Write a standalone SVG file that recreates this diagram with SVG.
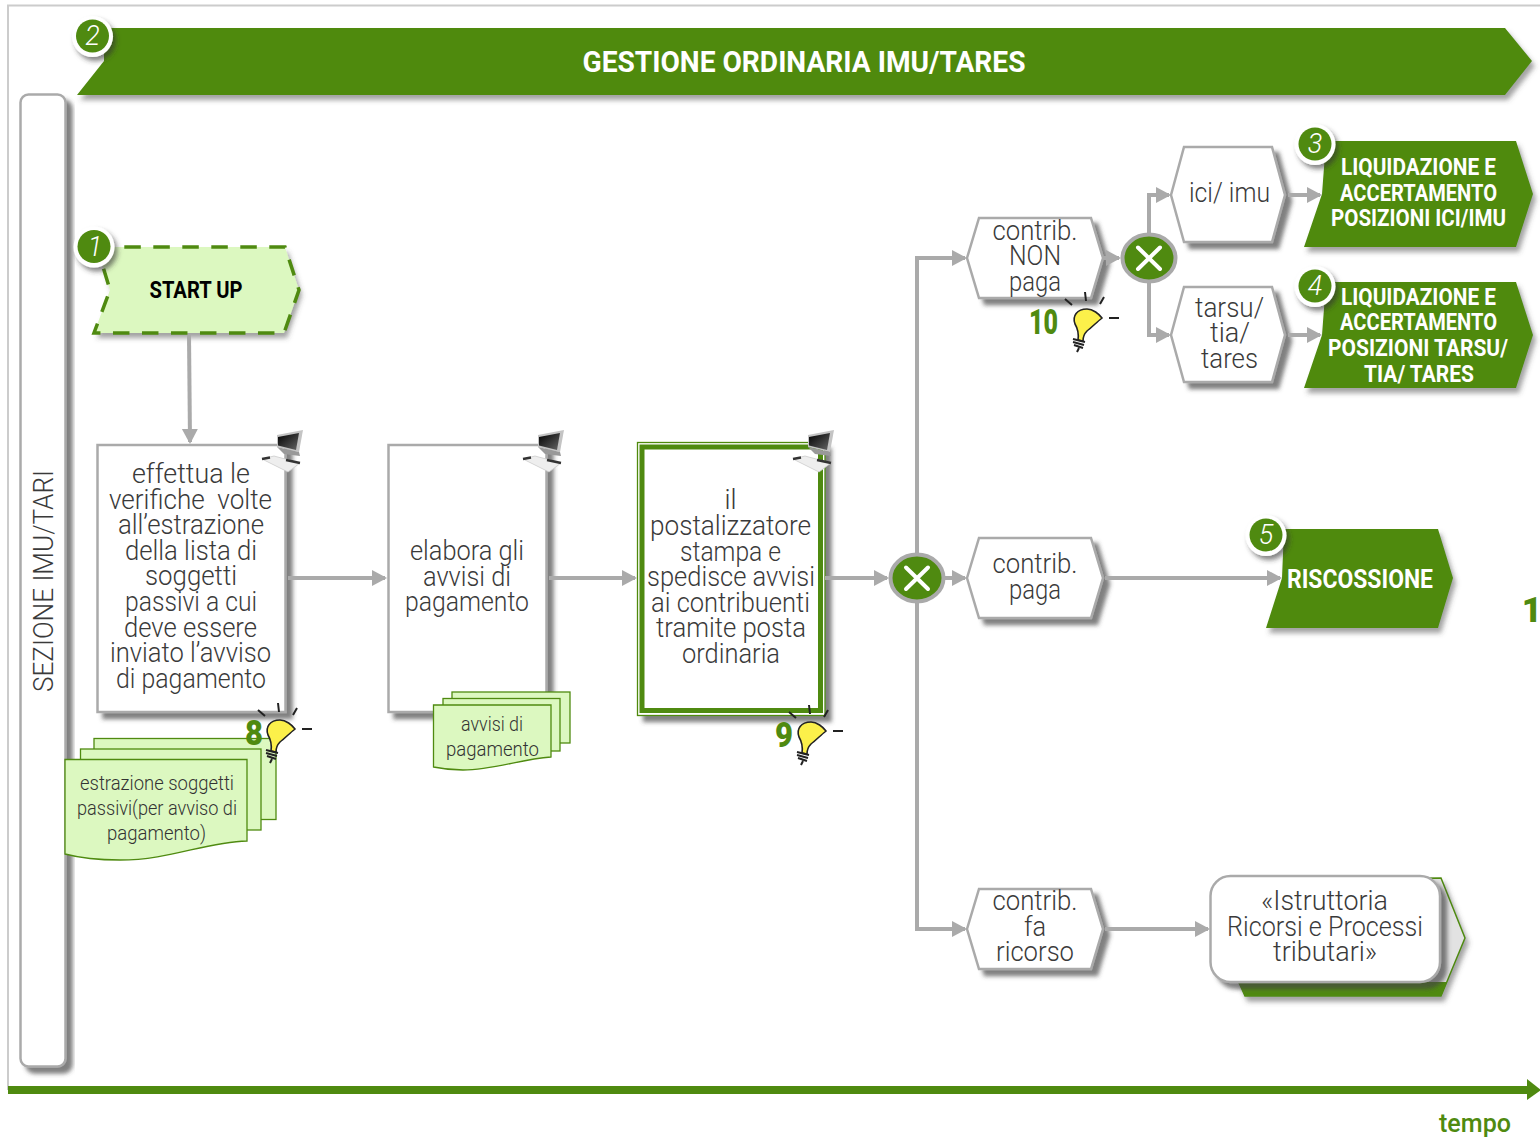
<svg xmlns="http://www.w3.org/2000/svg" width="1540" height="1137" viewBox="0 0 1540 1137">
<style>
text{font-family:Roboto,"Liberation Sans",sans-serif;text-anchor:middle}
.t{font-size:27px;font-weight:300;fill:#3a3a3a}
.d{font-size:21px;font-weight:300;fill:#333}
.w{font-size:23px;font-weight:700;fill:#fff}
.n{font-size:35px;font-weight:900;fill:#4f8a10}
.b{font-size:27px;font-weight:300;font-style:italic;fill:#fff}
.box{fill:#fff;stroke:#aaa;stroke-width:2.5;filter:url(#sh)}
.g{fill:#4f8a10;filter:url(#gs)}
.doc{fill:#dcf8c0;stroke:#4f8a10;stroke-width:1.3}
.c{fill:none;stroke:#aaa;stroke-width:4;marker-end:url(#ah)}
.gw{fill:#4f8a10;stroke:#aaa;stroke-width:4}
.x{fill:none;stroke:#fff;stroke-width:4;stroke-linecap:round}
</style>
<defs>
<filter id="sh" x="-20%" y="-20%" width="140%" height="140%"><feDropShadow dx="6" dy="6" stdDeviation="2.2" flood-color="#444" flood-opacity=".68"/></filter>
<filter id="gs" x="-10%" y="-20%" width="120%" height="150%"><feDropShadow dx="3" dy="5" stdDeviation="2.5" flood-color="#444" flood-opacity=".5"/></filter>
<filter id="bs" x="-30%" y="-30%" width="170%" height="170%"><feDropShadow dx="3" dy="4" stdDeviation="2.5" flood-color="#333" flood-opacity=".6"/></filter>
<marker id="ah" markerUnits="userSpaceOnUse" markerWidth="18" markerHeight="18" refX="13" refY="8" orient="auto"><path d="M0 0L15 8L0 16z" fill="#aaa"/></marker>
<linearGradient id="scr" x1="0" y1="0" x2="1" y2="1"><stop offset="0" stop-color="#000"/><stop offset="1" stop-color="#666"/></linearGradient>
<g id="pc">
<polygon points="0,29 12,26 38,33 26,42" fill="#eee" stroke="#ccc" stroke-width=".8"/>
<path d="M0 29L8 27.500M24 30L38 33" stroke="#333" stroke-width="2.500"/>
<polygon points="15,5 41,0 37,22 15,17" fill="#c4c4c4"/>
<polygon points="16,7 37,3 34,20 16,15.500" fill="url(#scr)"/>
<polygon points="15,17 37,22 38,26 22,24" fill="#999"/>
</g>
<g id="bulb">
<path d="M258 710L265 716M278 703L279 712M297 708L293 715M302 729H312" stroke="#222" stroke-width="2" fill="none"/>
<path d="M271 751C272 744 271 740 268 735C265 727 270 720 280 720C286 720 292 725 295 729C290 733 285 738 280 742C277 745 276 748 276 752Z" fill="#fcf04a" stroke="#222" stroke-width="1.600"/>
<path d="M266 750L278 753M266 753L277 756M267 756L276 759M272 759L270 763" stroke="#222" stroke-width="2" fill="none"/>
</g>
</defs>
<rect width="1540" height="1137" fill="#fff"/>
<path d="M1540 5.500H8V1090" fill="none" stroke="#ccc" stroke-width="2"/>
<g id="axis"><rect x="8" y="1086" width="1522" height="8" fill="#4f8a10"/><polygon points="1527,1079 1541,1090 1527,1100" fill="#4f8a10"/>
<text x="1475" y="1132" font-size="25" font-weight="500" fill="#4f8a10" textLength="72" lengthAdjust="spacingAndGlyphs">tempo</text></g>
<text class="n" x="1532" y="622">1</text>

<g id="lane"><rect x="20.500" y="94.500" width="45" height="972" rx="8" class="box"/>
<text class="t" transform="translate(53 581) rotate(-90)" textLength="222" lengthAdjust="spacingAndGlyphs">SEZIONE IMU/TARI</text></g>

<g id="banner"><polygon class="g" points="104,28 1505,28 1532,61 1505,95 77,95 104,61"/>
<text x="804" y="72" font-size="30" font-weight="700" fill="#fff" textLength="443" lengthAdjust="spacingAndGlyphs">GESTIONE ORDINARIA IMU/TARES</text></g>

<g id="startup"><polygon points="97,247 285,247 299,290 284,333 94,333 110,290" fill="#dcf8c0" filter="url(#gs)"/><polygon points="97,247 285,247 299,290 284,333 94,333 110,290" fill="none" stroke="#4f8a10" stroke-width="3.500" stroke-dasharray="16.500 12.500" stroke-dashoffset="1.700"/>
<text x="196" y="298" font-size="23" font-weight="700" fill="#000" textLength="93" lengthAdjust="spacingAndGlyphs">START UP</text></g>

<g id="task1"><rect x="97.500" y="445" width="188" height="267" class="box"/>
<g class="t">
<text x="191" y="483" textLength="118" lengthAdjust="spacingAndGlyphs">effettua le</text>
<text x="190.500" y="508.600" textLength="163" lengthAdjust="spacingAndGlyphs">verifiche&#160; volte</text>
<text x="191" y="534.200" textLength="146" lengthAdjust="spacingAndGlyphs">all’estrazione</text>
<text x="191" y="559.800" textLength="132" lengthAdjust="spacingAndGlyphs">della lista di</text>
<text x="191" y="585.400" textLength="92" lengthAdjust="spacingAndGlyphs">soggetti</text>
<text x="191" y="611" textLength="132" lengthAdjust="spacingAndGlyphs">passivi a cui</text>
<text x="190.500" y="636.600" textLength="133" lengthAdjust="spacingAndGlyphs">deve essere</text>
<text x="190.500" y="662.200" textLength="161" lengthAdjust="spacingAndGlyphs">inviato l’avviso</text>
<text x="191" y="687.800" textLength="150" lengthAdjust="spacingAndGlyphs">di pagamento</text>
</g>
<use href="#pc" x="262" y="430"/></g>

<g id="doc1">
<rect class="doc" x="94" y="738.500" width="182" height="81"/>
<rect class="doc" x="80.500" y="749" width="180.500" height="81"/>
<path class="doc" d="M65 759.500H247V841C205 842 170 860 120 860C100 860 80 858 65 854Z"/>
<g class="d">
<text x="157" y="790" textLength="154" lengthAdjust="spacingAndGlyphs">estrazione soggetti</text>
<text x="157" y="815" textLength="160" lengthAdjust="spacingAndGlyphs">passivi(per avviso di</text>
<text x="156.500" y="840" textLength="99" lengthAdjust="spacingAndGlyphs">pagamento)</text>
</g></g>
<g id="note8"><use href="#bulb"/><text class="n" x="254" y="745" textLength="18" lengthAdjust="spacingAndGlyphs">8</text></g>

<g id="task2"><rect x="388.500" y="445" width="158" height="267" class="box"/>
<g class="t">
<text x="467" y="560" textLength="114" lengthAdjust="spacingAndGlyphs">elabora gli</text>
<text x="467" y="586" textLength="88" lengthAdjust="spacingAndGlyphs">avvisi di</text>
<text x="467" y="611" textLength="124" lengthAdjust="spacingAndGlyphs">pagamento</text>
</g>
<use href="#pc" x="523" y="430"/></g>
<g id="doc2">
<rect class="doc" x="452" y="692" width="118" height="51"/>
<rect class="doc" x="443" y="698.500" width="117" height="52.500"/>
<path class="doc" d="M433.500 705H551V757C520 759 495 770 463 770C453 770 443 769 433.500 767Z"/>
<g class="d">
<text x="492" y="731" textLength="62" lengthAdjust="spacingAndGlyphs">avvisi di</text>
<text x="492.500" y="756" textLength="93" lengthAdjust="spacingAndGlyphs">pagamento</text>
</g></g>

<g id="task3"><rect x="637.500" y="442.500" width="187.500" height="273" fill="#fff" stroke="#4f8a10" stroke-width="1.300" filter="url(#sh)"/>
<rect x="642" y="447" width="178.500" height="263.500" fill="#fff" stroke="#4f8a10" stroke-width="5"/>
<g class="t">
<text x="730.500" y="509" textLength="12" lengthAdjust="spacingAndGlyphs">il</text>
<text x="730.500" y="535" textLength="161" lengthAdjust="spacingAndGlyphs">postalizzatore</text>
<text x="730.500" y="560.500" textLength="101" lengthAdjust="spacingAndGlyphs">stampa e</text>
<text x="731" y="586" textLength="168" lengthAdjust="spacingAndGlyphs">spedisce avvisi</text>
<text x="730.500" y="612" textLength="159" lengthAdjust="spacingAndGlyphs">ai contribuenti</text>
<text x="731" y="637" textLength="150" lengthAdjust="spacingAndGlyphs">tramite posta</text>
<text x="731" y="663" textLength="98" lengthAdjust="spacingAndGlyphs">ordinaria</text>
</g>
<use href="#pc" x="793" y="430"/></g>
<g id="note9"><use href="#bulb" x="531" y="2"/><text class="n" x="784" y="747" textLength="18" lengthAdjust="spacingAndGlyphs">9</text></g>

<g id="nonpaga"><polygon class="box" points="967,258 979,218 1091,218 1103,258 1091,298 979,298"/>
<g class="t">
<text x="1035" y="240" textLength="85" lengthAdjust="spacingAndGlyphs">contrib.</text>
<text x="1035" y="265" textLength="52" lengthAdjust="spacingAndGlyphs">NON</text>
<text x="1035" y="291" textLength="52" lengthAdjust="spacingAndGlyphs">paga</text>
</g></g>
<g id="note10"><use href="#bulb" x="807" y="-411"/><text class="n" x="1043.500" y="334" textLength="29" lengthAdjust="spacingAndGlyphs">10</text></g>

<g id="paga"><polygon class="box" points="967,578 979,538 1091,538 1103,578 1091,618 979,618"/>
<g class="t">
<text x="1035" y="573" textLength="85" lengthAdjust="spacingAndGlyphs">contrib.</text>
<text x="1035" y="599" textLength="52" lengthAdjust="spacingAndGlyphs">paga</text>
</g></g>

<g id="ricorso"><polygon class="box" points="967,929 979,889 1091,889 1103,929 1091,969 979,969"/>
<g class="t">
<text x="1035" y="910" textLength="85" lengthAdjust="spacingAndGlyphs">contrib.</text>
<text x="1035" y="936" textLength="22" lengthAdjust="spacingAndGlyphs">fa</text>
<text x="1035" y="961" textLength="78" lengthAdjust="spacingAndGlyphs">ricorso</text>
</g></g>

<g id="ici"><polygon class="box" points="1171,195 1184,147 1272,147 1285,195 1272,242 1184,242"/>
<text class="t" x="1229.500" y="202" textLength="81" lengthAdjust="spacingAndGlyphs">ici/ imu</text></g>

<g id="tarsu"><polygon class="box" points="1171,335 1184,287 1272,287 1285,335 1272,382 1184,382"/>
<g class="t">
<text x="1229.500" y="317" textLength="69" lengthAdjust="spacingAndGlyphs">tarsu/</text>
<text x="1230" y="342" textLength="40" lengthAdjust="spacingAndGlyphs">tia/</text>
<text x="1229.500" y="368" textLength="57" lengthAdjust="spacingAndGlyphs">tares</text>
</g></g>

<g id="liq3"><polygon class="g" points="1326,141 1516,141 1533,194 1516,247 1304,247 1322,194"/>
<g class="w">
<text x="1418.500" y="175" textLength="155" lengthAdjust="spacingAndGlyphs">LIQUIDAZIONE E</text>
<text x="1418.500" y="201" textLength="157" lengthAdjust="spacingAndGlyphs">ACCERTAMENTO</text>
<text x="1418.500" y="226" textLength="175" lengthAdjust="spacingAndGlyphs">POSIZIONI ICI/IMU</text>
</g></g>

<g id="liq4"><polygon class="g" points="1326,282 1516,282 1533,335 1516,388 1304,388 1322,335"/>
<g class="w">
<text x="1418.500" y="305" textLength="155" lengthAdjust="spacingAndGlyphs">LIQUIDAZIONE E</text>
<text x="1418.500" y="330" textLength="157" lengthAdjust="spacingAndGlyphs">ACCERTAMENTO</text>
<text x="1418" y="355.500" textLength="180" lengthAdjust="spacingAndGlyphs">POSIZIONI TARSU/</text>
<text x="1419" y="381.500" textLength="110" lengthAdjust="spacingAndGlyphs">TIA/ TARES</text>
</g></g>

<g id="riscossione"><polygon class="g" points="1284,529 1438,529 1453,578 1438,628 1266,628 1282,578"/>
<text x="1360" y="588" font-size="26" font-weight="700" fill="#fff" textLength="146" lengthAdjust="spacingAndGlyphs">RISCOSSIONE</text></g>

<g id="istruttoria"><polygon points="1238,880 1441,878 1465,938 1441,996 1245,996 1238,980" fill="#e2e2e2" stroke="#4f8a10" stroke-width="1.500" filter="url(#gs)"/>
<polygon points="1238,982 1440,982 1447,982 1441,996 1245,996" fill="#4f8a10"/>
<rect x="1210.500" y="876" width="229.500" height="106" rx="20" fill="#fff" stroke="#aaa" stroke-width="2.500" filter="url(#sh)"/>
<g class="t">
<text x="1324.500" y="910" textLength="127" lengthAdjust="spacingAndGlyphs">«Istruttoria</text>
<text x="1325" y="936" textLength="196" lengthAdjust="spacingAndGlyphs">Ricorsi e Processi</text>
<text x="1325" y="961" textLength="104" lengthAdjust="spacingAndGlyphs">tributari»</text>
</g></g>

<g id="connectors">
<path class="c" d="M189 335L190 442"/>
<path class="c" d="M288 578H385"/>
<path class="c" d="M549 578H635"/>
<path class="c" d="M825 578H887"/>
<path class="c" d="M945 578H965"/>
<path class="c" d="M917 578V258H965"/>
<path class="c" d="M917 578V929H965"/>
<path class="c" d="M1103 258H1119"/>
<path class="c" d="M1149 235V195H1169"/>
<path class="c" d="M1149 280V335H1169"/>
<path class="c" d="M1288 195H1320"/>
<path class="c" d="M1288 335H1320"/>
<path class="c" d="M1105 578H1280"/>
<path class="c" d="M1105 929H1208"/>
</g>

<g id="gw1"><ellipse class="gw" cx="917" cy="578" rx="26.500" ry="23.500"/><path class="x" d="M906 567.500L928 589M928 567.500L906 589"/></g>
<g id="gw2"><ellipse class="gw" cx="1149" cy="258" rx="26.500" ry="23.500"/><path class="x" d="M1138 247.500L1160 269M1160 247.500L1138 269"/></g>

<g id="badge1"><circle cx="94" cy="247" r="20.500" fill="#fff" filter="url(#bs)"/><circle cx="94" cy="246.500" r="16.500" fill="#4f8a10"/><text class="b" x="95" y="256">1</text></g>
<g id="badge2"><circle cx="92.500" cy="36.500" r="20.500" fill="#fff" filter="url(#bs)"/><circle cx="92.500" cy="36" r="16.500" fill="#4f8a10"/><text class="b" x="92.500" y="45">2</text></g>
<g id="badge3"><circle cx="1315" cy="144.500" r="20.500" fill="#fff" filter="url(#bs)"/><circle cx="1315" cy="144" r="16.500" fill="#4f8a10"/><text class="b" x="1315" y="153">3</text></g>
<g id="badge4"><circle cx="1315" cy="286.500" r="20.500" fill="#fff" filter="url(#bs)"/><circle cx="1315" cy="286" r="16.500" fill="#4f8a10"/><text class="b" x="1315" y="295">4</text></g>
<g id="badge5"><circle cx="1266" cy="535.500" r="20.500" fill="#fff" filter="url(#bs)"/><circle cx="1266" cy="535" r="16.500" fill="#4f8a10"/><text class="b" x="1266" y="544">5</text></g>
</svg>
